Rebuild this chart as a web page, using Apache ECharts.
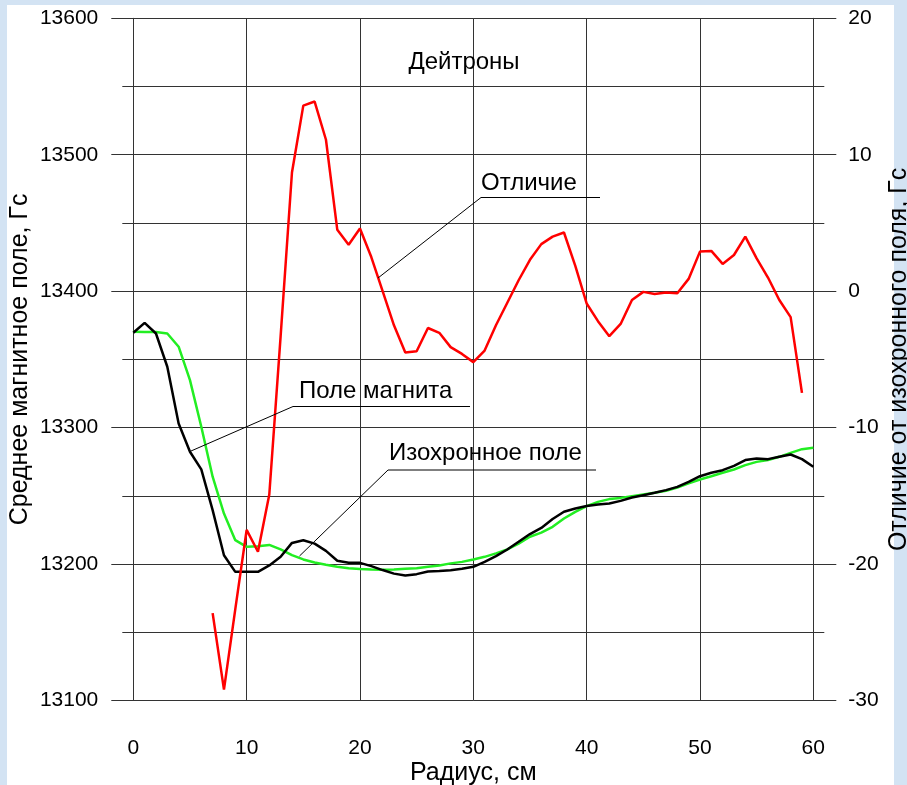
<!DOCTYPE html>
<html>
<head>
<meta charset="utf-8">
<script src="https://cdn.jsdelivr.net/npm/echarts@6/dist/echarts.min.js"></script>
<style>
html,body{margin:0;padding:0;background:#d3e3f3;}
#c{width:907px;height:785px;}
</style>
</head>
<body>
<div id="c"></div>
<script>
// Radius, cm
const radius = [0,1,2,3,4,5,6,7,8,9,10,11,12,13,14,15,16,17,18,19,20,21,22,23,24,25,26,27,28,29,30,
  31,32,33,34,35,36,37,38,39,40,41,42,43,44,45,46,47,48,49,50,51,52,53,54,55,56,57,58,59,60];
// Поле магнита (black), Gs
const magnetField = [13369.5,13376.8,13369,13344.6,13303,13282.3,13269.4,13239.5,13206.5,13194.3,13194.3,
  13194.3,13199,13205.3,13215.5,13217.5,13215,13209.7,13202.4,13200.9,13200.9,
  13198.5,13195.6,13193,13191.6,13192.6,13194.6,13195,13195.5,13196.5,13198,
  13201.6,13205.8,13210.7,13216.3,13222,13226.5,13233,13238.3,13240.7,13242.5,
  13243.7,13244.4,13246.3,13248.8,13250.5,13252.2,13254.2,13256.6,13260.3,13264.4,
  13266.9,13268.8,13272,13276.2,13277.4,13276.9,13278.6,13280.3,13276.9,13271.3];
// Изохронное поле (green), Gs
const isochronousField = [13370.2,13370,13370,13369,13359.3,13334.8,13300.6,13264,13237,13217.5,13212.6,
  13213,13214,13210.7,13206.5,13203.4,13201.2,13199.5,13198,13197,13196.3,
  13196,13195.8,13196,13196.5,13197,13198,13199,13200.5,13201.6,13203.4,
  13205.3,13207.8,13210.7,13215,13220,13223,13227.3,13233.4,13238.3,13242.5,
  13245.6,13247.6,13248.5,13249.8,13251,13252.2,13253.7,13256.1,13259.1,13262,
  13264.4,13266.9,13269.3,13272.5,13274.9,13276.2,13278.6,13281.5,13284.2,13285.2];
// Отличие (red), radius 7..59, Gs (right axis)
const diffRadius = [7,8,9,10,11,12,13,14,15,16,17,18,19,20,21,22,23,24,25,26,27,28,29,30,
  31,32,33,34,35,36,37,38,39,40,41,42,43,44,45,46,47,48,49,50,51,52,53,54,55,56,57,58,59];
const difference = [-23.6,-29.2,-23.3,-17.5,-19.1,-14.9,-3.3,8.7,13.6,13.9,11.1,4.5,3.4,4.6,
  2.5,0.0,-2.5,-4.5,-4.4,-2.7,-3.05,-4.1,-4.6,-5.2,
  -4.35,-2.5,-0.85,0.8,2.3,3.45,4.0,4.3,1.85,-0.9,
  -2.2,-3.3,-2.4,-0.65,-0.05,-0.2,-0.1,-0.15,0.9,2.9,
  2.95,2.0,2.65,4.0,2.4,1.0,-0.65,-1.9,-7.45];

const leftTicks = [13100, 13600, 100];
const rightTicks = [-30, 20, 10];
const xTicks = [0, 60, 10];

const FONT = '"Liberation Sans", Arial, sans-serif';
const GRID_COLOR = '#333';
const ANN_FONT = '24px ' + FONT;

function pairs(xs, ys){ return xs.map((x,i)=>[x, ys[i]]); }
const plain = v => String(v);

const chart = echarts.init(document.getElementById('c'), null, {renderer:'canvas'});

function annotation(text, tx, ty, ux1, ux2, uy, lx, ly){
  return [
    {type:'text', x:tx, y:ty, style:{text:text, font:ANN_FONT, fill:'#000', textVerticalAlign:'middle'}, z:10},
    {type:'line', shape:{x1:ux1, y1:uy, x2:ux2, y2:uy}, style:{stroke:'#000', lineWidth:1}, z:10},
    {type:'line', shape:{x1:ux1, y1:uy, x2:lx, y2:ly}, style:{stroke:'#000', lineWidth:1}, z:10}
  ];
}

const option = {
  animation:false,
  backgroundColor:'#d3e3f3',
  textStyle:{fontFamily:FONT},
  graphic:[
    {type:'rect', shape:{x:7,y:5,width:887,height:780}, style:{fill:'#ffffff'}, z:-10, silent:true},
    {type:'text', x:464, y:62, style:{text:'Дейтроны', font:ANN_FONT, fill:'#000', textAlign:'center', textVerticalAlign:'middle'}, z:10}
  ].concat(
    annotation('Отличие', 481, 183, 481, 600, 197.5, 378, 278),
    annotation('Поле магнита', 299, 391, 293, 470, 406.5, 191, 451),
    annotation('Изохронное поле', 389, 453, 388, 596, 470, 299.5, 556)
  ),
  grid:{left:133.3, right:93.7, top:18.3, bottom:84.5, containLabel:false, outerBoundsMode:'none'},
  xAxis:{
    type:'value', min:xTicks[0], max:xTicks[1], interval:xTicks[2],
    name:'Радиус, см', nameLocation:'middle', nameGap:60, nameMoveOverlap:false,
    nameTextStyle:{fontSize:25, color:'#000', fontFamily:FONT},
    axisLine:{show:true, lineStyle:{color:GRID_COLOR, width:1}},
    axisTick:{show:true, inside:false, length:23, lineStyle:{color:GRID_COLOR, width:1}},
    axisLabel:{fontSize:21, color:'#000', margin:37, fontFamily:FONT, formatter:plain},
    splitLine:{show:true, lineStyle:{color:GRID_COLOR, width:1}}
  },
  yAxis:[
    {
      type:'value', position:'left', min:leftTicks[0], max:leftTicks[1], interval:leftTicks[2],
      name:'Среднее магнитное поле, Гс', nameLocation:'middle', nameGap:101, nameRotate:90, nameMoveOverlap:false,
      nameTextStyle:{fontSize:25, color:'#000', fontFamily:FONT},
      axisLine:{show:true, lineStyle:{color:GRID_COLOR, width:1}},
      axisTick:{show:true, inside:false, length:22, lineStyle:{color:GRID_COLOR, width:1}},
      minorTick:{show:true, splitNumber:2, length:11, lineStyle:{color:GRID_COLOR, width:1}},
      axisLabel:{fontSize:21, color:'#000', margin:35, fontFamily:FONT, formatter:plain},
      splitLine:{show:true, lineStyle:{color:GRID_COLOR, width:1}},
      minorSplitLine:{show:true, lineStyle:{color:GRID_COLOR, width:1}}
    },
    {
      type:'value', position:'right', min:rightTicks[0], max:rightTicks[1], interval:rightTicks[2],
      name:'Отличие от изохронного поля, Гс', nameLocation:'middle', nameGap:73, nameRotate:90, nameMoveOverlap:false,
      nameTextStyle:{fontSize:25, color:'#000', fontFamily:FONT},
      axisLine:{show:true, lineStyle:{color:GRID_COLOR, width:1}},
      axisTick:{show:true, inside:false, length:23, lineStyle:{color:GRID_COLOR, width:1}},
      minorTick:{show:true, splitNumber:2, length:11, lineStyle:{color:GRID_COLOR, width:1}},
      axisLabel:{fontSize:21, color:'#000', margin:35, fontFamily:FONT, formatter:plain},
      splitLine:{show:false}
    }
  ],
  series:[
    {name:'Изохронное поле', type:'line', yAxisIndex:0, data:pairs(radius, isochronousField),
      symbol:'none', lineStyle:{color:'#22ee22', width:2.5}, z:2},
    {name:'Поле магнита', type:'line', yAxisIndex:0, data:pairs(radius, magnetField),
      symbol:'none', lineStyle:{color:'#000000', width:2.5}, z:3},
    {name:'Отличие', type:'line', yAxisIndex:1, data:pairs(diffRadius, difference),
      symbol:'none', lineStyle:{color:'#ff0000', width:2.5}, z:4}
  ]
};
chart.setOption(option);
</script>
</body>
</html>
